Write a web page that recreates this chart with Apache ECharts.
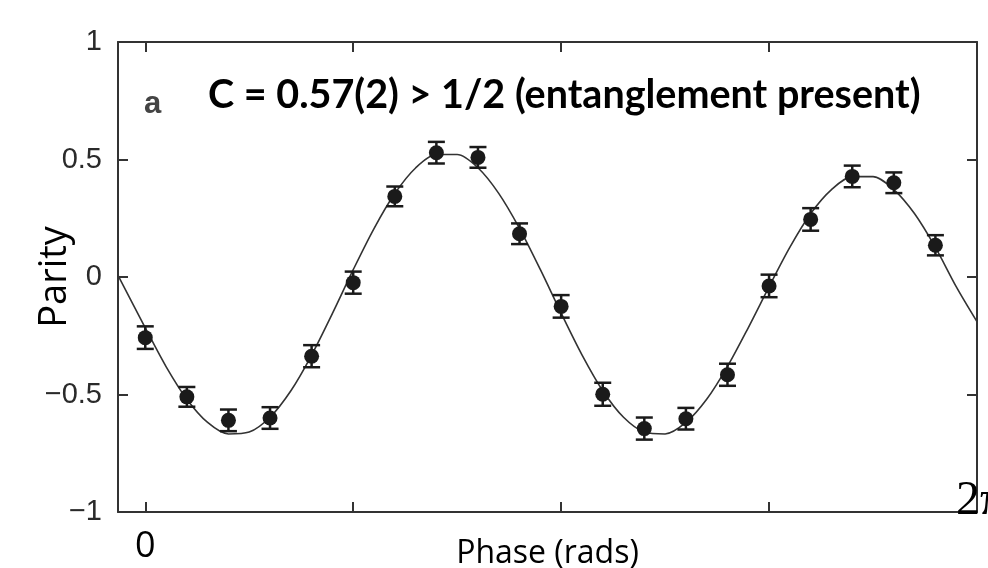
<!DOCTYPE html>
<html>
<head>
<meta charset="utf-8">
<script src="https://cdn.jsdelivr.net/npm/echarts@6/dist/echarts.min.js"></script>
<style>
html,body{margin:0;padding:0;background:#fff;}
#chart{width:988px;height:568px;}
</style>
</head>
<body>
<div id="chart"></div>
<script>
// Measured data points (phase in rad, parity, error)
var phases = [0, 0.3142, 0.6283, 0.9425, 1.2566, 1.5708, 1.8850, 2.1991, 2.5133, 2.8274,
              3.1416, 3.4558, 3.7699, 4.0841, 4.3982, 4.7124, 5.0265, 5.3407, 5.6549, 5.9690];
var parity = [-0.258, -0.51, -0.61, -0.60, -0.337, -0.024, 0.343, 0.529, 0.509, 0.184,
              -0.125, -0.499, -0.645, -0.603, -0.416, -0.038, 0.245, 0.428, 0.401, 0.135];
var parityErr = [0.048, 0.042, 0.046, 0.046, 0.047, 0.047, 0.042, 0.046, 0.044, 0.044,
                 0.048, 0.049, 0.047, 0.046, 0.047, 0.048, 0.048, 0.046, 0.044, 0.043];
// Fit curve
var curvePhase = [-0.206, 0, 0.157, 0.314, 0.471, 0.628, 0.785, 0.942, 1.100, 1.257, 1.414,
                  1.571, 1.728, 1.885, 2.042, 2.199, 2.356, 2.513, 2.670, 2.827, 2.985,
                  3.142, 3.299, 3.456, 3.613, 3.770, 3.927, 4.084, 4.241, 4.398, 4.555,
                  4.712, 4.869, 5.027, 5.184, 5.341, 5.498, 5.655, 5.812, 5.969, 6.126, 6.283];
var curveParity = [0.007, -0.216, -0.381, -0.520, -0.619, -0.668, -0.660, -0.597, -0.484, -0.332, -0.155,
                   0.031, 0.206, 0.355, 0.464, 0.521, 0.521, 0.465, 0.356, 0.207, 0.031,
                   -0.154, -0.331, -0.484, -0.597, -0.660, -0.668, -0.619, -0.520, -0.381, -0.216,
                   -0.042, 0.126, 0.270, 0.372, 0.427, 0.427, 0.372, 0.269, 0.126, -0.041, -0.19];
var xTickValues = [0, 1.5708, 3.1416, 4.7124];
var xLabelValues = [0];
var titleText = 'C = 0.57(2) > 1/2 (entanglement present)';
var panelLabel = 'a';
var xName = 'Phase (rads)';
var yName = 'Parity';
var endLabel = '2π';

var chart = echarts.init(document.getElementById('chart'), null, {renderer: 'canvas'});
var axisCol = '#333';
var XMIN = -0.206, XMAX = 6.2832;

var pts = phases.map(function (p, i) { return [p, parity[i]]; });
var errData = phases.map(function (p, i) { return [p, parity[i] - parityErr[i], parity[i] + parityErr[i]]; });
var curve = curvePhase.map(function (p, i) { return [p, curveParity[i]]; });

var option = {
  backgroundColor: '#fff',
  animation: false,
  title: {
    text: titleText,
    left: 203, top: 70,
    textStyle: {fontFamily: 'Lato', fontWeight: 'bold', fontSize: 39.5, color: '#000'}
  },
  grid: {left: 118, right: 11, top: 42, bottom: 56, containLabel: false, outerBoundsMode: 'none'},
  xAxis: [{
    type: 'value', min: XMIN, max: XMAX, position: 'bottom',
    name: xName, nameLocation: 'middle', nameGap: 26, nameMoveOverlap: false,
    nameTextStyle: {fontFamily: 'Open Sans', fontSize: 32, color: '#000', verticalAlign: 'top'},
    axisLine: {show: true, onZero: false, lineStyle: {color: axisCol, width: 2}},
    axisTick: {show: true, inside: true, length: 10, customValues: xTickValues, lineStyle: {color: axisCol, width: 2}},
    axisLabel: {show: true, customValues: xLabelValues, margin: 17, fontFamily: 'Open Sans', fontSize: 36, color: '#000',
      formatter: function (v) { return Math.abs(v) < 1e-9 ? '0' : ''; }},
    splitLine: {show: false}
  }, {
    type: 'value', min: XMIN, max: XMAX, position: 'top',
    axisLine: {show: true, onZero: false, lineStyle: {color: axisCol, width: 2}},
    axisTick: {show: true, inside: true, length: 10, customValues: xTickValues, lineStyle: {color: axisCol, width: 2}},
    axisLabel: {show: false}, splitLine: {show: false}
  }],
  yAxis: [{
    type: 'value', min: -1, max: 1, interval: 0.5, position: 'left',
    name: yName, nameLocation: 'middle', nameGap: 44, nameRotate: 90, nameMoveOverlap: false,
    nameTextStyle: {fontFamily: 'Open Sans', fontSize: 38, color: '#000'},
    axisLine: {show: true, onZero: false, lineStyle: {color: axisCol, width: 2}},
    axisTick: {show: true, inside: true, length: 10, lineStyle: {color: axisCol, width: 2}},
    axisLabel: {margin: 16, fontFamily: 'Liberation Sans', fontSize: 29, color: '#2a2a2a',
      formatter: function (v) { return String(v).replace('-', '\u2212'); }},
    splitLine: {show: false}
  }, {
    type: 'value', min: -1, max: 1, interval: 0.5, position: 'right',
    axisLine: {show: true, onZero: false, lineStyle: {color: axisCol, width: 2}},
    axisTick: {show: true, inside: true, length: 10, lineStyle: {color: axisCol, width: 2}},
    axisLabel: {show: false}, splitLine: {show: false}
  }],
  graphic: [{
    type: 'text', left: 144, top: 89, z: 10,
    style: {text: panelLabel, font: 'bold 31px "Liberation Sans"', fill: '#444'}
  }, {
    type: 'text', left: 956, top: 477, z: 10,
    style: {text: endLabel, font: 'normal 48px "Liberation Serif"', fill: '#000'}
  }],
  series: [{
    type: 'line', data: curve, xAxisIndex: 0, yAxisIndex: 0,
    smooth: 0.3, showSymbol: false, symbol: 'none',
    lineStyle: {color: '#333', width: 1.6}, z: 2
  }, {
    type: 'custom', data: errData, xAxisIndex: 0, yAxisIndex: 0, z: 3,
    renderItem: function (params, api) {
      var x = api.value(0);
      var lo = api.coord([x, api.value(1)]);
      var hi = api.coord([x, api.value(2)]);
      var w = 8.5;
      var st = {stroke: '#1a1a1a', lineWidth: 2.5};
      return {type: 'group', children: [
        {type: 'line', shape: {x1: lo[0], y1: lo[1], x2: hi[0], y2: hi[1]}, style: st},
        {type: 'line', shape: {x1: lo[0] - w, y1: lo[1], x2: lo[0] + w, y2: lo[1]}, style: st},
        {type: 'line', shape: {x1: hi[0] - w, y1: hi[1], x2: hi[0] + w, y2: hi[1]}, style: st}
      ]};
    }
  }, {
    type: 'scatter', data: pts, xAxisIndex: 0, yAxisIndex: 0,
    symbol: 'circle', symbolSize: 15, itemStyle: {color: '#1a1a1a', opacity: 1}, z: 4
  }]
};
chart.setOption(option);
</script>
</body>
</html>
